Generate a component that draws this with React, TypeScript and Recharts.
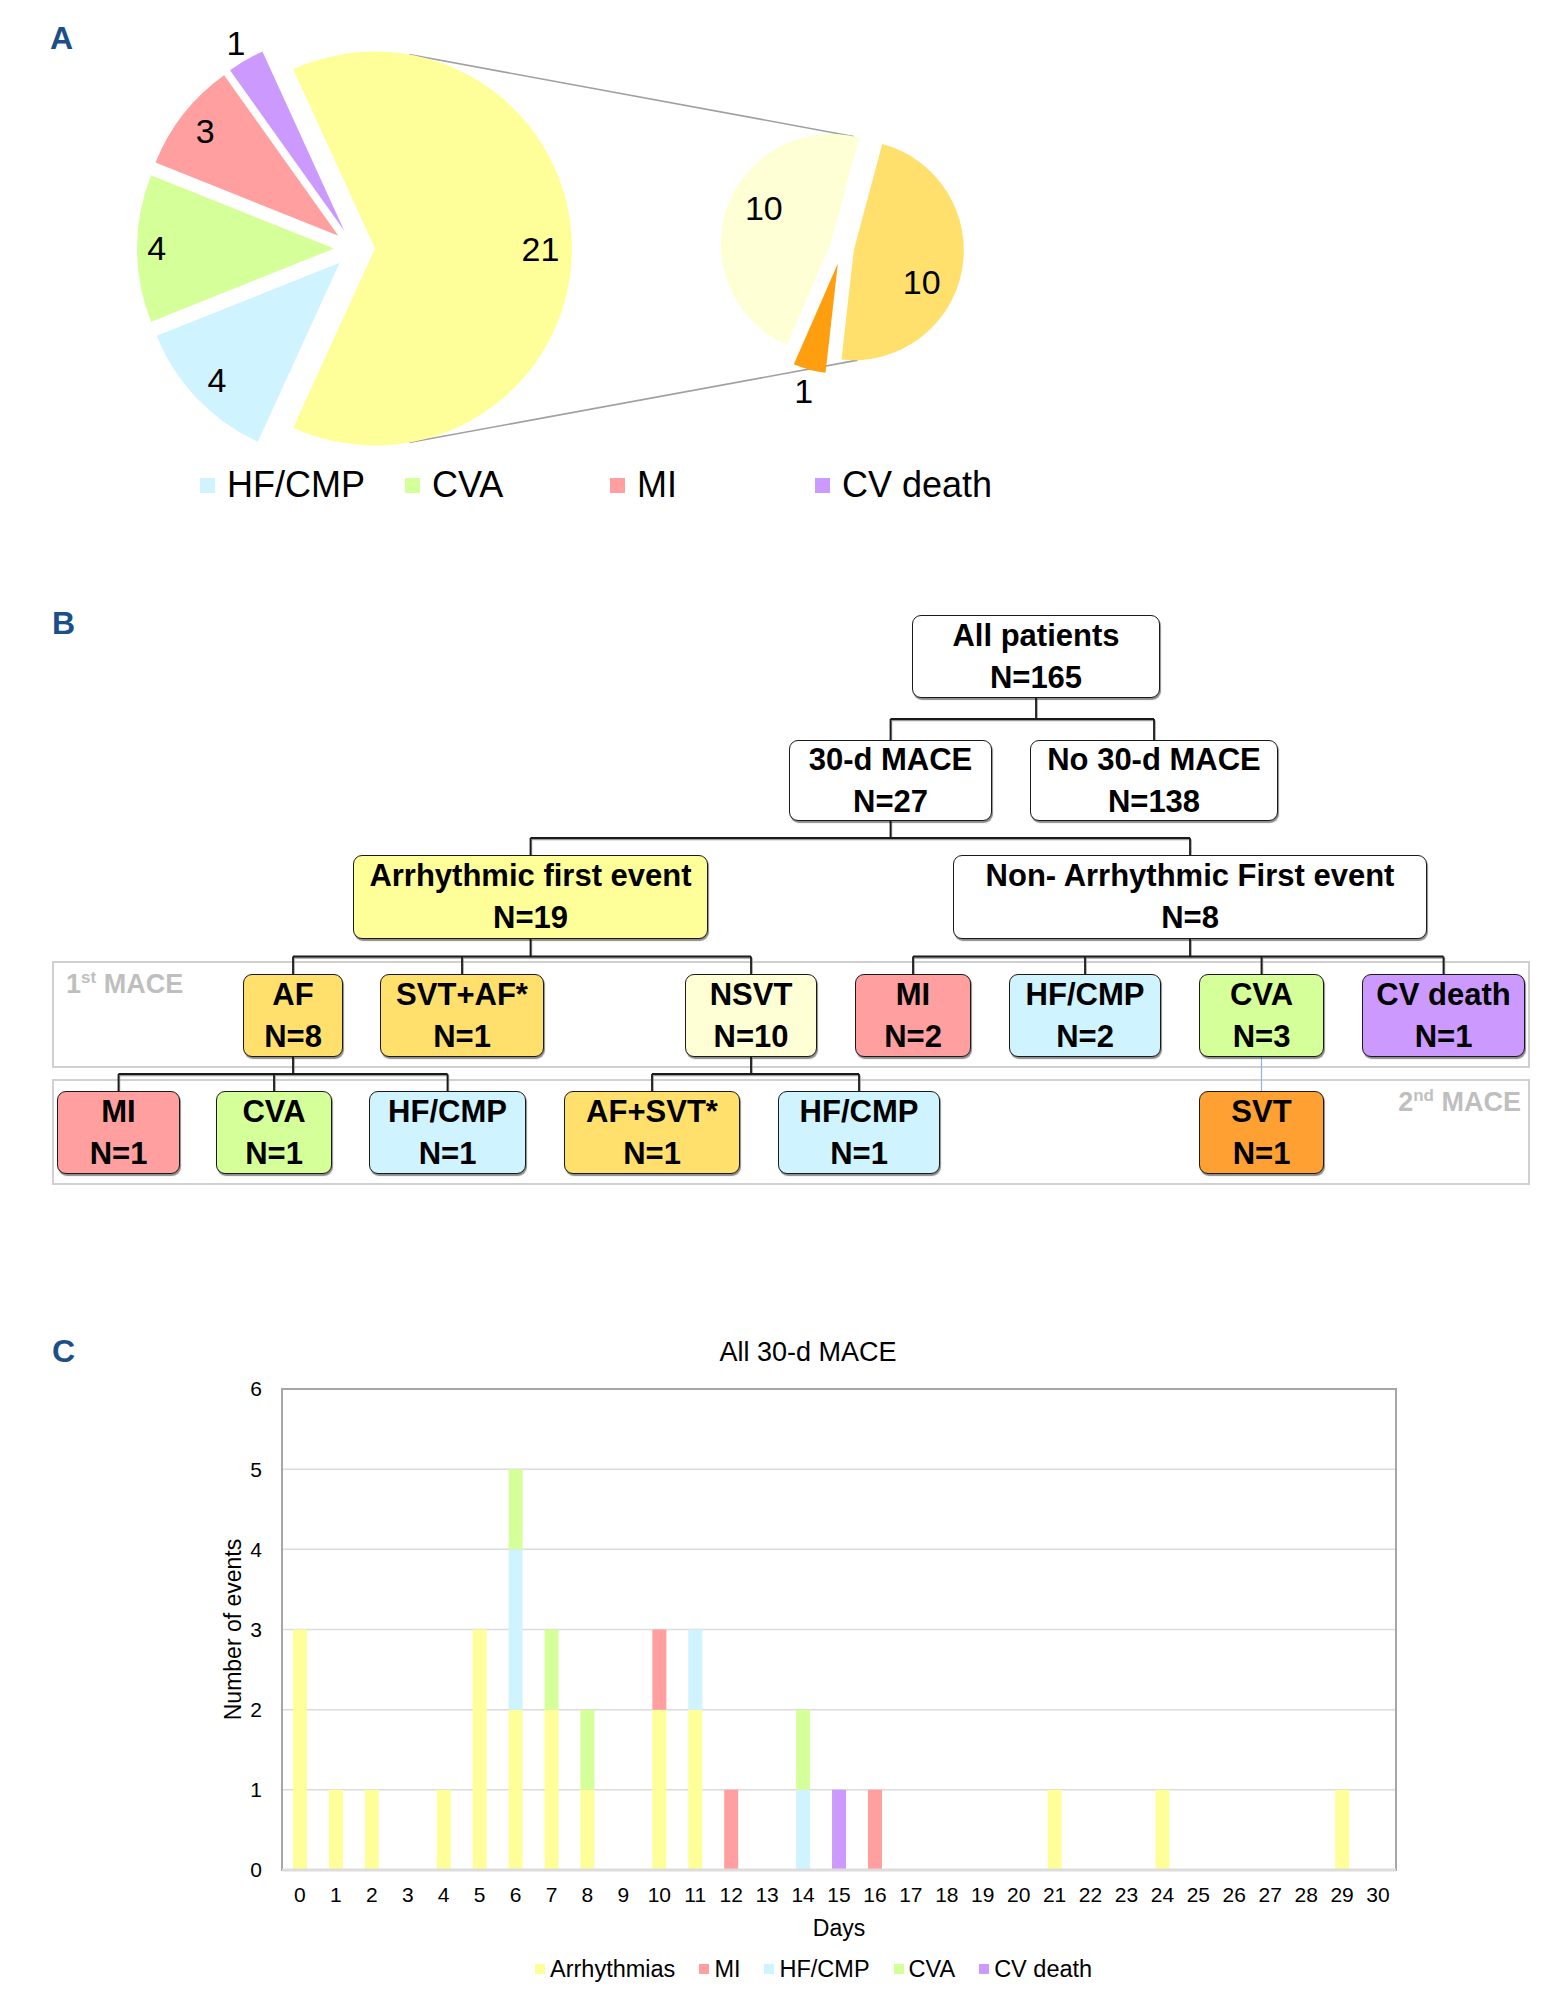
import React from "react";
import {
  Bar,
  BarChart,
  CartesianGrid,
  Cell,
  Legend,
  Pie,
  PieChart,
  ReferenceArea,
  ReferenceLine,
  Sector,
  XAxis,
  YAxis,
} from "recharts";

const FONT = '"Liberation Sans", Arial, sans-serif';

// ---- panel A: type of first MACE, and breakdown of arrhythmias
const MACE_TYPES = ["Arrhythmias", "CV death", "MI", "CVA", "HF/CMP"];
const MACE_COUNTS = [21, 1, 3, 4, 4];
const ARRHYTHMIA_TYPES = ["NSVT", "SVT", "AF"];
const ARRHYTHMIA_COUNTS = [10, 1, 10];
const PIE_LEGEND = ["HF/CMP", "CVA", "MI", "CV death"];

// ---- panel B: flow of patients
const NODE_TITLES = [
  "All patients", "30-d MACE", "No 30-d MACE", "Arrhythmic first event", "Non- Arrhythmic First event",
  "AF", "SVT+AF*", "NSVT", "MI", "HF/CMP", "CVA", "CV death",
  "MI", "CVA", "HF/CMP", "AF+SVT*", "HF/CMP", "SVT",
];
const NODE_N = [165, 27, 138, 19, 8, 8, 1, 10, 2, 2, 3, 1, 1, 1, 1, 1, 1, 1];
const NODE_KIND = [
  "", "", "", "Arrhythmias", "",
  "AF", "AF", "NSVT", "MI", "HF/CMP", "CVA", "CV death",
  "MI", "CVA", "HF/CMP", "AF", "HF/CMP", "SVT",
];
const TREE: [number, number[]][] = [
  [0, [1, 2]],
  [1, [3, 4]],
  [3, [5, 6, 7]],
  [4, [8, 9, 10, 11]],
  [5, [12, 13, 14]],
  [7, [15, 16]],
];

// ---- panel C: events per day
const DAYS = ["0", "1", "2", "3", "4", "5", "6", "7", "8", "9", "10", "11", "12", "13", "14", "15",
  "16", "17", "18", "19", "20", "21", "22", "23", "24", "25", "26", "27", "28", "29", "30"];
const ARRHYTHMIAS = [3, 1, 1, 0, 1, 3, 2, 2, 1, 0, 2, 2, 0, 0, 0, 0, 0, 0, 0, 0, 0, 1, 0, 0, 1, 0, 0, 0, 0, 1, 0];
const MI = [0, 0, 0, 0, 0, 0, 0, 0, 0, 0, 1, 0, 1, 0, 0, 0, 1, 0, 0, 0, 0, 0, 0, 0, 0, 0, 0, 0, 0, 0, 0];
const HF_CMP = [0, 0, 0, 0, 0, 0, 2, 0, 0, 0, 0, 1, 0, 0, 1, 0, 0, 0, 0, 0, 0, 0, 0, 0, 0, 0, 0, 0, 0, 0, 0];
const CVA = [0, 0, 0, 0, 0, 0, 1, 1, 1, 0, 0, 0, 0, 0, 1, 0, 0, 0, 0, 0, 0, 0, 0, 0, 0, 0, 0, 0, 0, 0, 0];
const CV_DEATH = [0, 0, 0, 0, 0, 0, 0, 0, 0, 0, 0, 0, 0, 0, 0, 1, 0, 0, 0, 0, 0, 0, 0, 0, 0, 0, 0, 0, 0, 0, 0];
const SERIES = ["Arrhythmias", "MI", "HF/CMP", "CVA", "CV death"];
const Y_TICKS = [0, 1, 2, 3, 4, 5, 6];

const COLORS: Record<string, string> = {
  Arrhythmias: "#FFFF99",
  MI: "#FF9F9F",
  "HF/CMP": "#CFF3FF",
  CVA: "#D5FF99",
  "CV death": "#CC99FF",
  NSVT: "#FFFFD5",
  SVT: "#FF9E0F",
  AF: "#FFE06C",
};
const BOX_COLORS: Record<string, string> = { ...COLORS, SVT: "#FFA033", "": "#FFFFFF" };

// pie geometry
const MAIN = { cx: 354.5, cy: 248.5, r: 197 };
const SUB = { cx: 842, cy: 248, r: 110 };
const MAIN_EXPLODE: Record<string, number> = { Arrhythmias: 20.5, "CV death": 20.5, MI: 20.5, CVA: 20.5, "HF/CMP": 20.5 };
const SUB_EXPLODE: Record<string, number> = { NSVT: 12, SVT: 16, AF: 12 };
const MAIN_LABEL_R: Record<string, number> = { Arrhythmias: 0.84, "CV death": 1.1, MI: 0.86, CVA: 0.9, "HF/CMP": 0.86 };
const SUB_LABEL_R: Record<string, number> = { NSVT: 0.69, SVT: 1.2, AF: 0.68 };
const SUB_LABEL_SHIFT: Record<string, number> = { NSVT: -9, SVT: 0, AF: -14 };

const RAD = Math.PI / 180;
const polar = (x: number, y: number, r: number, a: number) => [x + r * Math.cos(-a * RAD), y + r * Math.sin(-a * RAD)];

function explodedShape(explode: Record<string, number>) {
  return (props: any) => {
    const off = explode[props.name] ?? 0;
    const [x, y] = polar(props.cx, props.cy, off, props.midAngle);
    return <Sector {...props} cx={x} cy={y} />;
  };
}

function pieLabel(explode: Record<string, number>, factor: Record<string, number>, shift: Record<string, number>) {
  return (props: any) => {
    const off = explode[props.name] ?? 0;
    const [ax, ay] = polar(props.cx, props.cy, off, props.midAngle);
    const [x, y] = polar(ax, ay, props.outerRadius * (factor[props.name] ?? 0.8), props.midAngle + (shift[props.name] ?? 0));
    return (
      <text key={props.name} x={x} y={y} textAnchor="middle" dominantBaseline="central" fontSize={34} fontFamily={FONT} fill="#000">
        {props.value}
      </text>
    );
  };
}

function PieLegend() {
  return (
    <div style={{ display: "flex", alignItems: "center", height: 40 }}>
      {PIE_LEGEND.map((k) => (
        <div key={k} style={{ width: 205, display: "flex", alignItems: "center" }}>
          <span style={{ width: 15, height: 15, background: COLORS[k], marginRight: 12 }} />
          <span style={{ fontSize: 36, fontFamily: FONT, color: "#000" }}>{k}</span>
        </div>
      ))}
    </div>
  );
}

function PanelA() {
  const mace = MACE_TYPES.map((t, i) => ({ type: t, count: MACE_COUNTS[i] }));
  const arr = ARRHYTHMIA_TYPES.map((t, i) => ({ type: t, count: ARRHYTHMIA_COUNTS[i] }));
  return (
    <PieChart width={1100} height={520} margin={{ top: 0, right: 0, bottom: 0, left: 0 }}>
      <Pie
        data={mace}
        dataKey="count"
        nameKey="type"
        cx={MAIN.cx}
        cy={MAIN.cy}
        outerRadius={MAIN.r}
        startAngle={-114.55}
        endAngle={245.45}
        stroke="none"
        shape={explodedShape(MAIN_EXPLODE)}
        label={pieLabel(MAIN_EXPLODE, MAIN_LABEL_R, {})}
        labelLine={false}
        isAnimationActive={false}
      >
        {mace.map((d) => (
          <Cell key={d.type} fill={COLORS[d.type]} />
        ))}
      </Pie>
      <Pie
        data={arr}
        dataKey="count"
        nameKey="type"
        cx={SUB.cx}
        cy={SUB.cy}
        outerRadius={SUB.r}
        startAngle={75}
        endAngle={435}
        stroke="none"
        shape={explodedShape(SUB_EXPLODE)}
        label={pieLabel(SUB_EXPLODE, SUB_LABEL_R, SUB_LABEL_SHIFT)}
        labelLine={false}
        isAnimationActive={false}
      >
        {arr.map((d) => (
          <Cell key={d.type} fill={COLORS[d.type]} />
        ))}
      </Pie>
      <Legend content={() => <PieLegend />} wrapperStyle={{ left: 200, top: 465, bottom: "auto", width: "auto" }} />
    </PieChart>
  );
}

function BarLegend() {
  return (
    <div style={{ display: "flex", alignItems: "center", height: 30 }}>
      {SERIES.map((k) => (
        <div key={k} style={{ display: "flex", alignItems: "center", marginRight: 24 }}>
          <span style={{ width: 10, height: 10, background: COLORS[k], marginRight: 5 }} />
          <span style={{ fontSize: 23.5, fontFamily: FONT, color: "#000" }}>{k}</span>
        </div>
      ))}
    </div>
  );
}

function PanelC() {
  const data = DAYS.map((d, i) => ({
    day: d,
    Arrhythmias: ARRHYTHMIAS[i],
    MI: MI[i],
    "HF/CMP": HF_CMP[i],
    CVA: CVA[i],
    "CV death": CV_DEATH[i],
  }));
  return (
    <BarChart width={1548} height={676} data={data} margin={{ top: 69, right: 152, bottom: 12, left: 222 }}>
      <CartesianGrid vertical={false} stroke="#DCDCDC" strokeWidth={1.5} />
      <XAxis
        dataKey="day"
        interval={0}
        tickSize={0}
        tickMargin={17}
        axisLine={false}
        height={84}
        tick={{ fontSize: 21, fill: "#000", fontFamily: FONT }}
        label={{ value: "Days", position: "insideBottom", offset: 18, fontSize: 23, fill: "#000", fontFamily: FONT }}
      />
      <YAxis
        type="number"
        domain={[0, 6]}
        ticks={Y_TICKS}
        width={60}
        tickSize={0}
        tickMargin={20}
        axisLine={false}
        tick={{ fontSize: 21, fill: "#000", fontFamily: FONT }}
        label={{
          value: "Number of events",
          angle: -90,
          position: "insideLeft",
          offset: 11,
          fontSize: 23,
          fill: "#000",
          fontFamily: FONT,
          style: { textAnchor: "middle" },
        }}
      />
      <ReferenceArea y1={0} y2={6} fill="none" stroke="#A6A6A6" strokeWidth={2} ifOverflow="visible" />
      <ReferenceLine y={0} stroke="#DCDCDC" strokeWidth={3} />
      {SERIES.map((k) => (
        <Bar key={k} dataKey={k} stackId="a" fill={COLORS[k]} barSize={14} isAnimationActive={false} />
      ))}
      <Legend
        verticalAlign="bottom"
        height={30}
        content={() => <BarLegend />}
        wrapperStyle={{ left: 535, width: "auto" }}
      />
    </BarChart>
  );
}

// layout of panel B boxes: [left, top, width, height]
const NODE_BOX: [number, number, number, number][] = [
  [912, 615, 248, 83],
  [789, 740, 203, 81],
  [1030, 740, 248, 81],
  [353, 855, 355, 84],
  [953, 855, 474, 84],
  [243, 974, 100, 83],
  [380, 974, 164, 83],
  [685, 974, 132, 83],
  [855, 974, 116, 83],
  [1009, 974, 152, 83],
  [1199, 974, 125, 83],
  [1362, 974, 163, 83],
  [57, 1091, 123, 83],
  [216, 1091, 116, 83],
  [369, 1091, 157, 83],
  [564, 1091, 176, 83],
  [778, 1091, 162, 83],
  [1199, 1091, 125, 83],
];

function nodeCenter(i: number) {
  const [x, y, w, h] = NODE_BOX[i];
  return { x: x + w / 2, top: y, bottom: y + h };
}

function Connectors() {
  const segs: React.ReactElement[] = [];
  TREE.forEach(([p, kids]) => {
    const pc = nodeCenter(p);
    const cs = kids.map(nodeCenter);
    const bus = (pc.bottom + cs[0].top) / 2;
    const xs = cs.map((c) => c.x).concat(pc.x);
    const lines: [number, number, number, number][] = [
      [pc.x, pc.bottom, pc.x, bus],
      [Math.min(...xs), bus, Math.max(...xs), bus],
      ...cs.map((c) => [c.x, bus, c.x, c.top] as [number, number, number, number]),
    ];
    lines.forEach(([x1, y1, x2, y2], j) => {
      segs.push(<line key={`s${p}-${j}`} x1={x1 + 1} y1={y1 + 1.5} x2={x2 + 1} y2={y2 + 1.5} stroke="#9A9A9A" strokeWidth={1.5} />);
      segs.push(<line key={`l${p}-${j}`} x1={x1} y1={y1} x2={x2} y2={y2} stroke="#1A1A1A" strokeWidth={1.8} />);
    });
  });
  const a = nodeCenter(10);
  const b = nodeCenter(17);
  segs.push(<line key="cva-svt" x1={a.x} y1={a.bottom} x2={b.x} y2={b.top} stroke="#8EB4E3" strokeWidth={1.2} />);
  return <>{segs}</>;
}

export default function App() {
  const [t1x, t1y] = polar(MAIN.cx + MAIN_EXPLODE.Arrhythmias, MAIN.cy, MAIN.r, 80);
  const [b1x, b1y] = polar(MAIN.cx + MAIN_EXPLODE.Arrhythmias, MAIN.cy, MAIN.r, -80);
  const [lx, ly] = polar(SUB.cx, SUB.cy, SUB_EXPLODE.NSVT, 160.7);
  const [gx, gy] = polar(SUB.cx, SUB.cy, SUB_EXPLODE.AF, 349.3);
  const [t2x, t2y] = polar(lx, ly, SUB.r, 78);
  const [b2x, b2y] = polar(gx, gy, SUB.r, -88);
  const letter = { fontFamily: FONT, fontWeight: 700, fontSize: 32, fill: "#1B4F8A" };
  const region = { fontFamily: FONT, fontWeight: 700, fontSize: 27, fill: "#BFBFBF" };
  return (
    <div
      style={{
        position: "absolute",
        left: 0,
        top: 0,
        width: 1548,
        height: 1996,
        background: "#fff",
        fontFamily: FONT,
        overflow: "hidden",
      }}
    >
      <svg width={1548} height={1996} style={{ position: "absolute", left: 0, top: 0 }}>
        <text x={50} y={49} {...letter}>A</text>
        <text x={52} y={634} {...letter}>B</text>
        <text x={52} y={1362} {...letter}>C</text>
        <line x1={t1x} y1={t1y} x2={t2x} y2={t2y} stroke="#A0A0A0" strokeWidth={1.6} />
        <line x1={b1x} y1={b1y} x2={b2x} y2={b2y} stroke="#A0A0A0" strokeWidth={1.6} />
        <rect x={53} y={962} width={1476} height={105} fill="none" stroke="#D0D0D0" strokeWidth={2} />
        <rect x={53} y={1080} width={1476} height={104} fill="none" stroke="#D0D0D0" strokeWidth={2} />
        <text x={66} y={993} {...region}>
          1<tspan fontSize={17} dy={-10}>st</tspan>
          <tspan dy={10}> MACE</tspan>
        </text>
        <text x={1521} y={1111} textAnchor="end" {...region}>
          2<tspan fontSize={17} dy={-10}>nd</tspan>
          <tspan dy={10}> MACE</tspan>
        </text>
        <Connectors />
      </svg>
      <div style={{ position: "absolute", left: 0, top: 0 }}>
        <PanelA />
      </div>
      {NODE_TITLES.map((t, i) => {
        const [x, y, w, h] = NODE_BOX[i];
        return (
          <div
            key={i}
            style={{
              position: "absolute",
              left: x,
              top: y,
              width: w,
              height: h,
              boxSizing: "border-box",
              border: "1.8px solid #1A1A1A",
              borderRadius: 9,
              background: BOX_COLORS[NODE_KIND[i]],
              boxShadow: "1px 2px 1px rgba(0,0,0,0.45)",
              display: "flex",
              flexDirection: "column",
              alignItems: "center",
              justifyContent: "center",
              fontWeight: 700,
              fontSize: 31,
              lineHeight: "42px",
              color: "#000",
              whiteSpace: "nowrap",
            }}
          >
            <span>{t}</span>
            <span>N={NODE_N[i]}</span>
          </div>
        );
      })}
      <div
        style={{
          position: "absolute",
          left: 608,
          top: 1336,
          width: 400,
          textAlign: "center",
          fontSize: 27,
          lineHeight: "32px",
          color: "#000",
        }}
      >
        All 30-d MACE
      </div>
      <div style={{ position: "absolute", left: 0, top: 1320 }}>
        <PanelC />
      </div>
    </div>
  );
}
